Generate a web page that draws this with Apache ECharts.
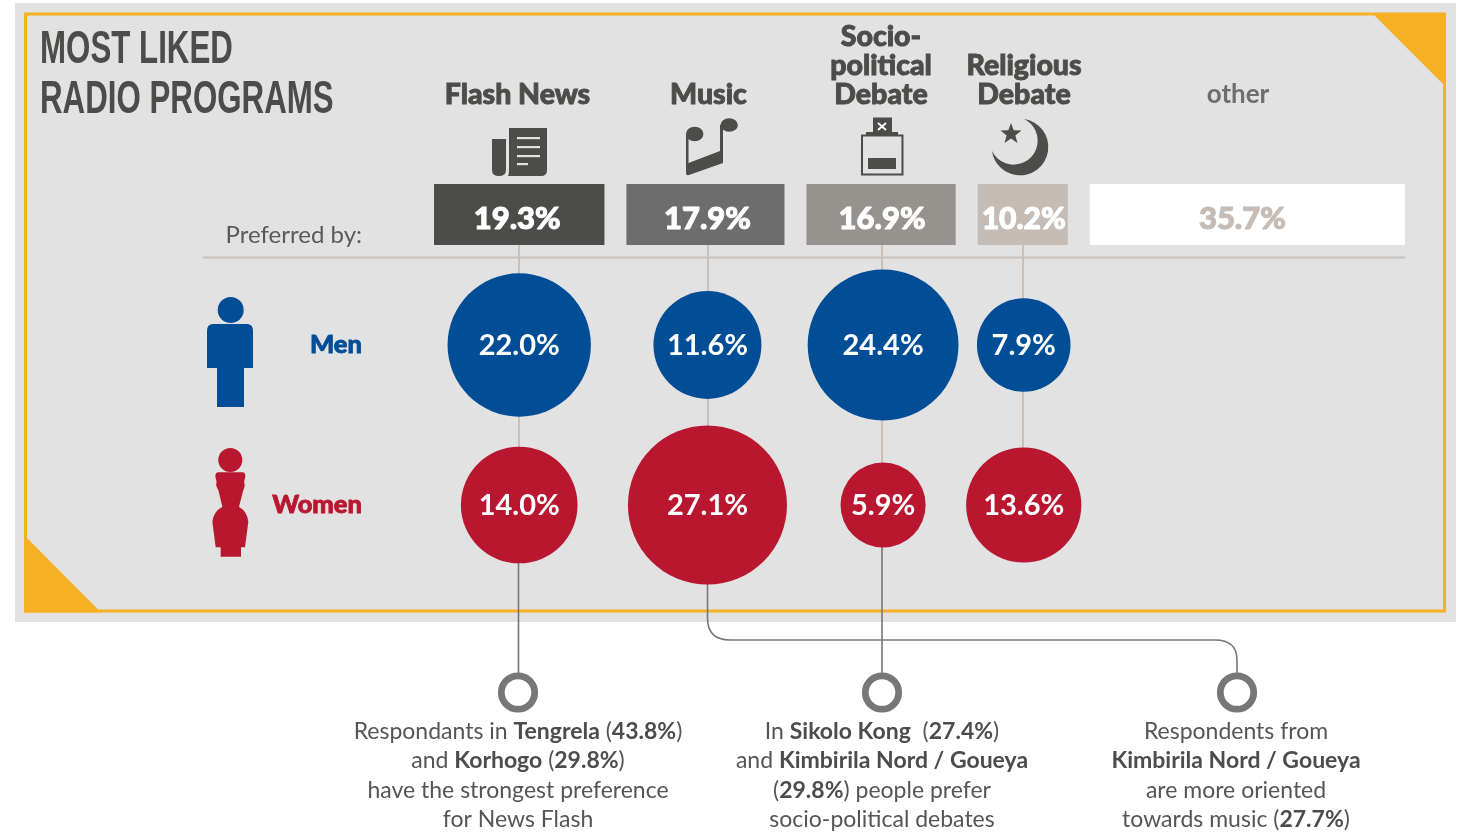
<!DOCTYPE html>
<html><head><meta charset="utf-8">
<style>html,body{margin:0;padding:0;background:#fff}#c{width:1475px;height:832px}</style>
<script src="https://cdn.jsdelivr.net/npm/echarts@6/dist/echarts.min.js"></script>
</head><body><div id="c"></div>
<script>
const programs = ['Flash News','Music','Socio-\npolitical\nDebate','Religious\nDebate','other'];
const preferred = [19.3,17.9,16.9,10.2,35.7];
const rows = ['Men','Women'];
const men = [22.0,11.6,24.4,7.9];
const women = [14.0,27.1,5.9,13.6];
const titleLines = ['MOST LIKED','RADIO PROGRAMS'];

const F='Lato, "Open Sans", sans-serif';
const DARK='#4c4c4a', LINE='#c8c0ba', CONN='#777777', PANEL='#e2e2e2', ORANGE='#f5b023', BLUE='#014e97', RED='#b9172f';
const barColors=['#4c4c4a','#6d6d6d','#96928e','#c5bcb6','#ffffff'];
const GAP=2.49, L=434, R=1405;
const total=preferred.reduce((a,b)=>a+b,0)+GAP*(preferred.length-1);
const pxPerUnit=(R-L)/total;
const nudgePx=[0,2,2,1];
let run=0; const centers=preferred.map(v=>{const c=run+v/2; run+=v+GAP; return c;});
const barSeries=[];
preferred.forEach((v,i)=>{
  const col=i==4?'#c5bcb6':'#fff';
  barSeries.push({type:'bar',xAxisIndex:0,yAxisIndex:0,stack:'s',barWidth:'100%',silent:true,
    data:[v],itemStyle:{color:barColors[i]},
    label:{show:true,position:'inside',offset:[i==4?-5:(i==3?1:(i==0?-2:(i==1?2:1))),4.5],formatter:'{c}%',fontFamily:F,fontWeight:900,fontSize:i==3?30:31,color:col,textBorderColor:col,textBorderWidth:1}});
  if(i<preferred.length-1) barSeries.push({type:'bar',xAxisIndex:0,yAxisIndex:0,stack:'s',silent:true,data:[GAP],itemStyle:{color:'transparent'}});
});
const bubble=(arr,row,color)=>({type:'scatter',xAxisIndex:1,yAxisIndex:1,z:5,silent:true,
  data:arr.map((v,i)=>[centers[i]+nudgePx[i]/pxPerUnit,row,v]),
  symbolSize:d=>50.5+9.14*Math.pow(d[2],0.75),
  itemStyle:{color,opacity:1},
  label:{show:true,position:'inside',offset:[0,1],formatter:p=>p.value[2].toFixed(1)+'%',fontFamily:F,fontWeight:700,fontSize:29,color:'#fff'}});

// decoration behind the marks
const bg=[], fg=[];
bg.push({type:'rect',shape:{x:15,y:3,width:1441,height:619},style:{fill:PANEL}});
bg.push({type:'rect',shape:{x:25.5,y:14,width:1419,height:597},style:{fill:'none',stroke:ORANGE,lineWidth:3}});
bg.push({type:'polygon',shape:{points:[[1372,13],[1446,13],[1446,87]]},style:{fill:ORANGE}});
bg.push({type:'polygon',shape:{points:[[24,535],[24,612.5],[101,612.5]]},style:{fill:ORANGE}});
const seg=(x1,y1,x2,y2,c,w)=>bg.push({type:'line',shape:{x1,y1,x2,y2},style:{stroke:c,lineWidth:w,fill:'none'}});
seg(203,257.5,1405,257.5,LINE,2);
seg(519,245,519,450,LINE,2);seg(708,245,708,430,LINE,2);seg(882,245,882,470,LINE,2);seg(1023,245,1023,452,LINE,2);
seg(518.5,560,518.5,675,CONN,1.6);seg(882,540,882,675,CONN,1.6);
bg.push({type:'path',shape:{pathData:'M707.5 580 V618 Q707.5 640 730 640 H1215 Q1237 640 1237 660 V675'},style:{fill:'none',stroke:CONN,lineWidth:1.6}});
[518,882,1237].forEach(x=>bg.push({type:'circle',shape:{cx:x,cy:692.5,r:16.7},style:{fill:'#fff',stroke:CONN,lineWidth:6.8}}));
// title
titleLines.forEach((t,i)=>fg.push({type:'text',x:40,y:50.5+i*49.5,scaleX:0.68,style:{text:t,font:'700 46px "Liberation Sans",sans-serif',fill:DARK,align:'left',verticalAlign:'middle'}}));
// program names
const nameX=[517.5,708.5,881,1024,1238];
programs.forEach((t,i)=>{const heavy=i!=4;fg.push({type:'text',x:nameX[i],y:109,style:{text:t,font:(heavy?'900 28.5px ':'700 26px ')+F,fill:heavy?DARK:'#6e6e6e',align:'center',verticalAlign:'bottom',lineHeight:29,stroke:heavy?DARK:null,lineWidth:heavy?0.9:0}});});
fg.push({type:'text',x:362,y:235,style:{text:'Preferred by:',font:'400 24px '+F,fill:'#5a5a5a',align:'right',verticalAlign:'middle'}});
// icons
const icon=d=>fg.push({type:'path',shape:{pathData:d},style:{fill:DARK}});
icon('M492 139 H506 V170 Q506 176 499 176 Q492 176 492 170 Z');
icon('M509 128 H547 V170 Q547 176 541 176 H508 Q509 174 509 170 Z');
[[517,137,23],[517,146,23],[517,155,23],[517,163,11]].forEach(r=>fg.push({type:'rect',shape:{x:r[0],y:r[1],width:r[2],height:2.2},style:{fill:PANEL}}));
icon('M686 134 H688.5 V163 L720 151 V125 H723 V163 L689 175 Q686 176 686 173 Z');
icon('M686 134 a8.7 7.3 0 1 0 17.4 0 a8.7 7.3 0 1 0 -17.4 0 Z');
icon('M720.5 125 a8.7 6.8 0 1 0 17.4 0 a8.7 6.8 0 1 0 -17.4 0 Z');
fg.push({type:'rect',shape:{x:862,y:135.5,width:40.5,height:39},style:{fill:'none',stroke:DARK,lineWidth:2}});
fg.push({type:'rect',shape:{x:868,y:158,width:28,height:11},style:{fill:DARK}});
fg.push({type:'rect',shape:{x:866,y:132,width:32,height:3.5},style:{fill:DARK}});
fg.push({type:'rect',shape:{x:873,y:117.5,width:19,height:15},style:{fill:DARK}});
const cross=(x1,y1,x2,y2)=>fg.push({type:'line',shape:{x1,y1,x2,y2},style:{stroke:'#fff',lineWidth:1.8,fill:'none'}});
cross(878,123,886,130);cross(886,123,878,130);
icon('M1024 119 A28.3 28.3 0 1 1 992 151 A24 24 0 1 0 1024 119 Z');
fg.push({type:'polygon',shape:{points:Array.from({length:10},(_,i)=>{const r=i%2?4.6:11,a=-Math.PI/2+i*Math.PI/5;return [1011+r*Math.cos(a),134+r*Math.sin(a)];})},style:{fill:DARK}});
// people
fg.push({type:'circle',shape:{cx:230.7,cy:310,r:13},style:{fill:BLUE}});
fg.push({type:'path',shape:{pathData:'M213 324 H247 Q253 324 253 331 V368 H244 V407 H217 V368 H207 V331 Q207 324 213 324 Z'},style:{fill:BLUE}});
fg.push({type:'circle',shape:{cx:230.3,cy:460,r:12},style:{fill:RED}});
fg.push({type:'path',x:190,y:280,scaleX:1/3,scaleY:1/3,shape:{pathData:'M85 577 H158 Q166 577 166 590 L162 606 Q167 615 160 630 L147 680 Q172 695 175 725 L165 802 H153 V830 H92 V802 H77 L67 725 Q70 695 97 680 L85 630 Q75 615 80 606 L76 590 Q76 577 85 577 Z'},style:{fill:RED}});
// notes
const rich={a:{fontFamily:F,fontSize:23,fontWeight:400,fill:'#555',lineHeight:29.5},b:{fontFamily:F,fontSize:23,fontWeight:700,fill:'#4c4c4a',lineHeight:29.5}};
const note=(x,lines)=>fg.push({type:'text',x,y:716.5,style:{text:lines.join('\n'),rich,align:'center',verticalAlign:'top',lineHeight:29.5,fill:'#555',font:'400 23px '+F}});
note(518,['{a|Respondants in }{b|Tengrela}{a| (}{b|43.8%}{a|)}','{a|and }{b|Korhogo}{a| (}{b|29.8%}{a|)}','{a|have the strongest preference}','{a|for News Flash}']);
note(882,['{a|In }{b|Sikolo Kong}{a|  (}{b|27.4%}{a|)}','{a|and }{b|Kimbirila Nord / Goueya}','{a|(}{b|29.8%}{a|) people prefer}','{a|socio-political debates}']);
note(1236,['{a|Respondents from}','{b|Kimbirila Nord / Goueya}','{a|are more oriented}','{a|towards music (}{b|27.7%}{a|)}']);

const layer=(els,z)=>({type:'custom',coordinateSystem:'none',z,silent:true,clip:false,data:[0],renderItem:()=>({type:'group',children:els})});
const rowLabel=c=>({fontFamily:F,fontWeight:900,fontSize:25.5,color:c,textBorderColor:c,textBorderWidth:0.8});
const chart=echarts.init(document.getElementById('c'),null,{renderer:'canvas'});
chart.setOption({
  animation:false,backgroundColor:'#fff',
  grid:[{left:L,width:R-L,top:184,height:61},{left:L,width:R-L,top:265,height:320}],
  xAxis:[{type:'value',gridIndex:0,min:0,max:total,show:false},{type:'value',gridIndex:1,min:0,max:total,show:false}],
  yAxis:[{type:'category',gridIndex:0,data:['share'],show:false},
    {type:'category',gridIndex:1,data:rows,inverse:true,z:7,axisLine:{show:false},axisTick:{show:false},splitLine:{show:false},
     axisLabel:{margin:72,align:'right',formatter:v=>v==='Men'?'{m|'+v+'}':'{w|'+v+'}',rich:{m:rowLabel(BLUE),w:rowLabel(RED)}}}],
  series:[layer(bg,0),...barSeries,bubble(men,0,BLUE),bubble(women,1,RED),layer(fg,6)]
});
</script></body></html>
